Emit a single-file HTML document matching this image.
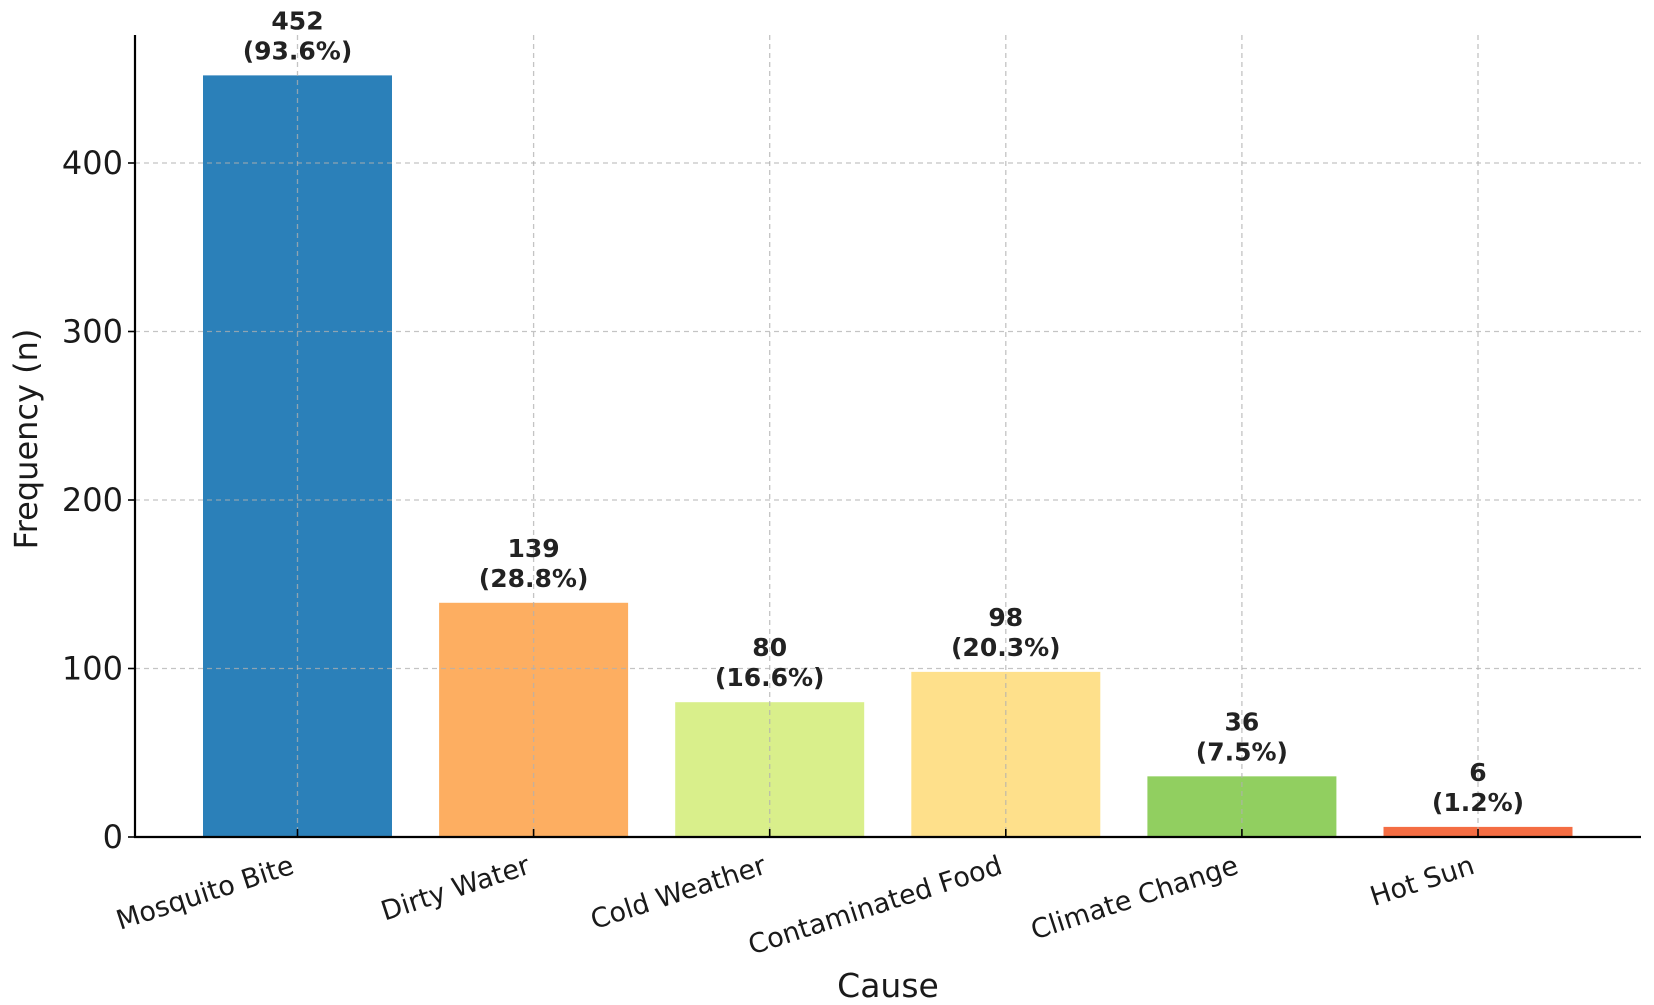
<!DOCTYPE html>
<html><head><meta charset="utf-8"><style>
html,body{margin:0;padding:0;background:#fff;}
svg{display:block;font-family:"DejaVu Sans","Liberation Sans",sans-serif;}
</style></head><body>
<svg id="chart" width="1654" height="1005" viewBox="0 0 1654 1005" xmlns="http://www.w3.org/2000/svg"></svg>
<script>
const categories = ["Mosquito Bite","Dirty Water","Cold Weather","Contaminated Food","Climate Change","Hot Sun"];
const values = [452,139,80,98,36,6];
const percents = ["93.6%","28.8%","16.6%","20.3%","7.5%","1.2%"];
const colors = ["#2b80b9","#fdae61","#d9ef8b","#fee08b","#91cf60","#f46d43"];
const yTicks = [0,100,200,300,400];

const svg = document.getElementById('chart');
const NS = 'http://www.w3.org/2000/svg';
const plotLeft = 135, plotRight = 1641, plotTop = 35, zeroY = 837, pxPerUnit = 1.685;
const x0 = 297.5, step = 236.1, barW = 189;
function yScale(v){ return zeroY - v * pxPerUnit; }
function xScale(i){ return x0 + i * step; }
function mk(tag, attrs, parent){ const e = document.createElementNS(NS, tag); for (const k in attrs) e.setAttribute(k, attrs[k]); (parent||svg).appendChild(e); return e; }

categories.forEach((c,i)=>{
  const b = mk('rect',{x:xScale(i)-barW/2,y:yScale(values[i]),width:barW,height:zeroY-yScale(values[i]),fill:colors[i]});
  
  
});
yTicks.slice(1).forEach(t=>{
  const g = mk('line',{x1:plotLeft,x2:plotRight,y1:yScale(t),y2:yScale(t),stroke:'#b0b0b0','stroke-width':1.3,'stroke-dasharray':'5,4','stroke-opacity':0.75});
  
  
});
categories.forEach((c,i)=>{
  const g = mk('line',{x1:xScale(i),x2:xScale(i),y1:plotTop,y2:zeroY,stroke:'#b0b0b0','stroke-width':1.3,'stroke-dasharray':'5,4','stroke-opacity':0.75});
  
  
});
const ya = mk('line',{x1:plotLeft,x2:plotLeft,y1:plotTop,y2:zeroY+1,stroke:'#000','stroke-width':2.2});


const xa = mk('line',{x1:plotLeft-1,x2:plotRight,y1:zeroY,y2:zeroY,stroke:'#000','stroke-width':2.2});


yTicks.forEach(t=>{
  const y = yScale(t);
  mk('line',{x1:plotLeft-7,x2:plotLeft,y1:y,y2:y,stroke:'#000','stroke-width':1.6});
  const tx = mk('text',{x:plotLeft-12,y:y+11,'text-anchor':'end','font-size':32,fill:'#1a1a1a'});
  tx.textContent = t;
  
  
});
categories.forEach((c,i)=>{
  const x = xScale(i);
  mk('line',{x1:x,x2:x,y1:zeroY,y2:zeroY-8,stroke:'#000','stroke-width':1.6});
  const lab = mk('text',{x:0,y:0,'text-anchor':'end','font-size':27,fill:'#1a1a1a',transform:`translate(${x-2},${zeroY+36}) rotate(-18)`});
  lab.textContent = c;
  
  
  const by = yScale(values[i]);
  const v = mk('text',{x:x,y:by-46,'text-anchor':'middle','font-size':25,'font-weight':'bold',fill:'#222'});
  v.textContent = values[i];
  
  
  const p = mk('text',{x:x,y:by-16,'text-anchor':'middle','font-size':25,'font-weight':'bold',fill:'#222'});
  p.textContent = '(' + percents[i] + ')';
  
  
});
const xt = mk('text',{x:888,y:997,'text-anchor':'middle','font-size':33,fill:'#1a1a1a'});
xt.textContent = 'Cause';


const yt = mk('text',{x:0,y:0,'text-anchor':'middle','font-size':32,fill:'#1a1a1a',transform:'translate(37,439) rotate(-90)'});
yt.textContent = 'Frequency (n)';


</script>
</body></html>
